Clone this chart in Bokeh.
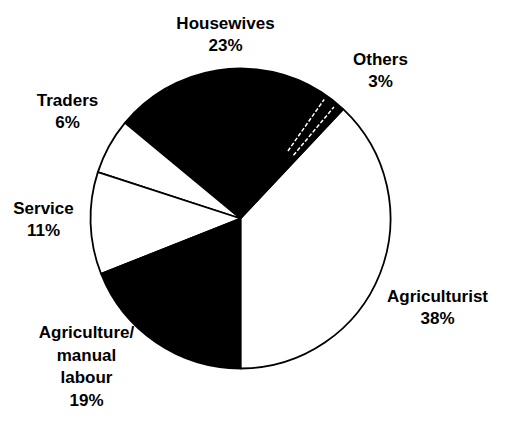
import numpy as np
from bokeh.plotting import figure
from bokeh.models import ColumnDataSource, Range1d
from bokeh.core.properties import value
from bokeh.embed import file_html
from bokeh.resources import INLINE

# ---- data ----
categories = ["Agriculturist", "Others", "Housewives", "Traders", "Service", "Agriculture/\nmanual\nlabour"]
percents = [38, 3, 23, 6, 11, 19]
fills = ["white", "black", "black", "white", "white", "black"]

# ---- layout (pixel coords from top-left of label block centres) ----
W, H = 490, 416
label_pos = [(437, 307), (380, 70), (225, 34), (67, 111), (43, 219), (86, 366)]
cx_img, cy_img, R = 240, 218, 150


def tx(x):
    return x


def ty(y):
    return H - y


p = figure(width=W, height=H, output_backend="svg", toolbar_location=None,
           x_range=Range1d(0, W), y_range=Range1d(0, H), min_border=0)
p.axis.visible = False
p.grid.visible = False
p.outline_line_color = None
p.background_fill_color = "white"
p.border_fill_color = "white"

vals = np.array(percents, dtype=float)
ang = vals / vals.sum() * 2 * np.pi
start0 = -np.pi / 2
ends = start0 + np.cumsum(ang)
starts = ends - ang

cx, cy = tx(cx_img), ty(cy_img)
src = ColumnDataSource(dict(start=starts, end=ends, fill=fills,
                            x=[cx] * len(vals), y=[cy] * len(vals)))
p.wedge(x="x", y="y", radius=R, start_angle="start", end_angle="end",
        fill_color="fill", line_color="black", line_width=1.8, source=src)

# white dashed lines inside the "Others" slice
oi = categories.index("Others")
a_list = [starts[oi] + ang[oi] * f for f in (0.3, 0.75)]
x0 = [cx + R * 0.55 * np.cos(a) for a in a_list]
y0 = [cy + R * 0.55 * np.sin(a) for a in a_list]
x1 = [cx + R * 0.97 * np.cos(a) for a in a_list]
y1 = [cy + R * 0.97 * np.sin(a) for a in a_list]
p.segment(x0=x0, y0=y0, x1=x1, y1=y1, line_color="white", line_width=1.5,
          line_dash="4 2")

labels = [f"{c}\n{v}%" for c, v in zip(categories, percents)]
lsrc = ColumnDataSource(dict(x=[tx(a) for a, b in label_pos],
                             y=[ty(b) for a, b in label_pos], t=labels))
p.text(x="x", y="y", text="t", source=lsrc, text_align="center",
       text_baseline="middle", text_font=value("Liberation Sans"),
       text_font_style="bold", text_font_size="17px", text_color="black",
       text_line_height=1.2)

open("out.html", "w").write(file_html(p, INLINE))
